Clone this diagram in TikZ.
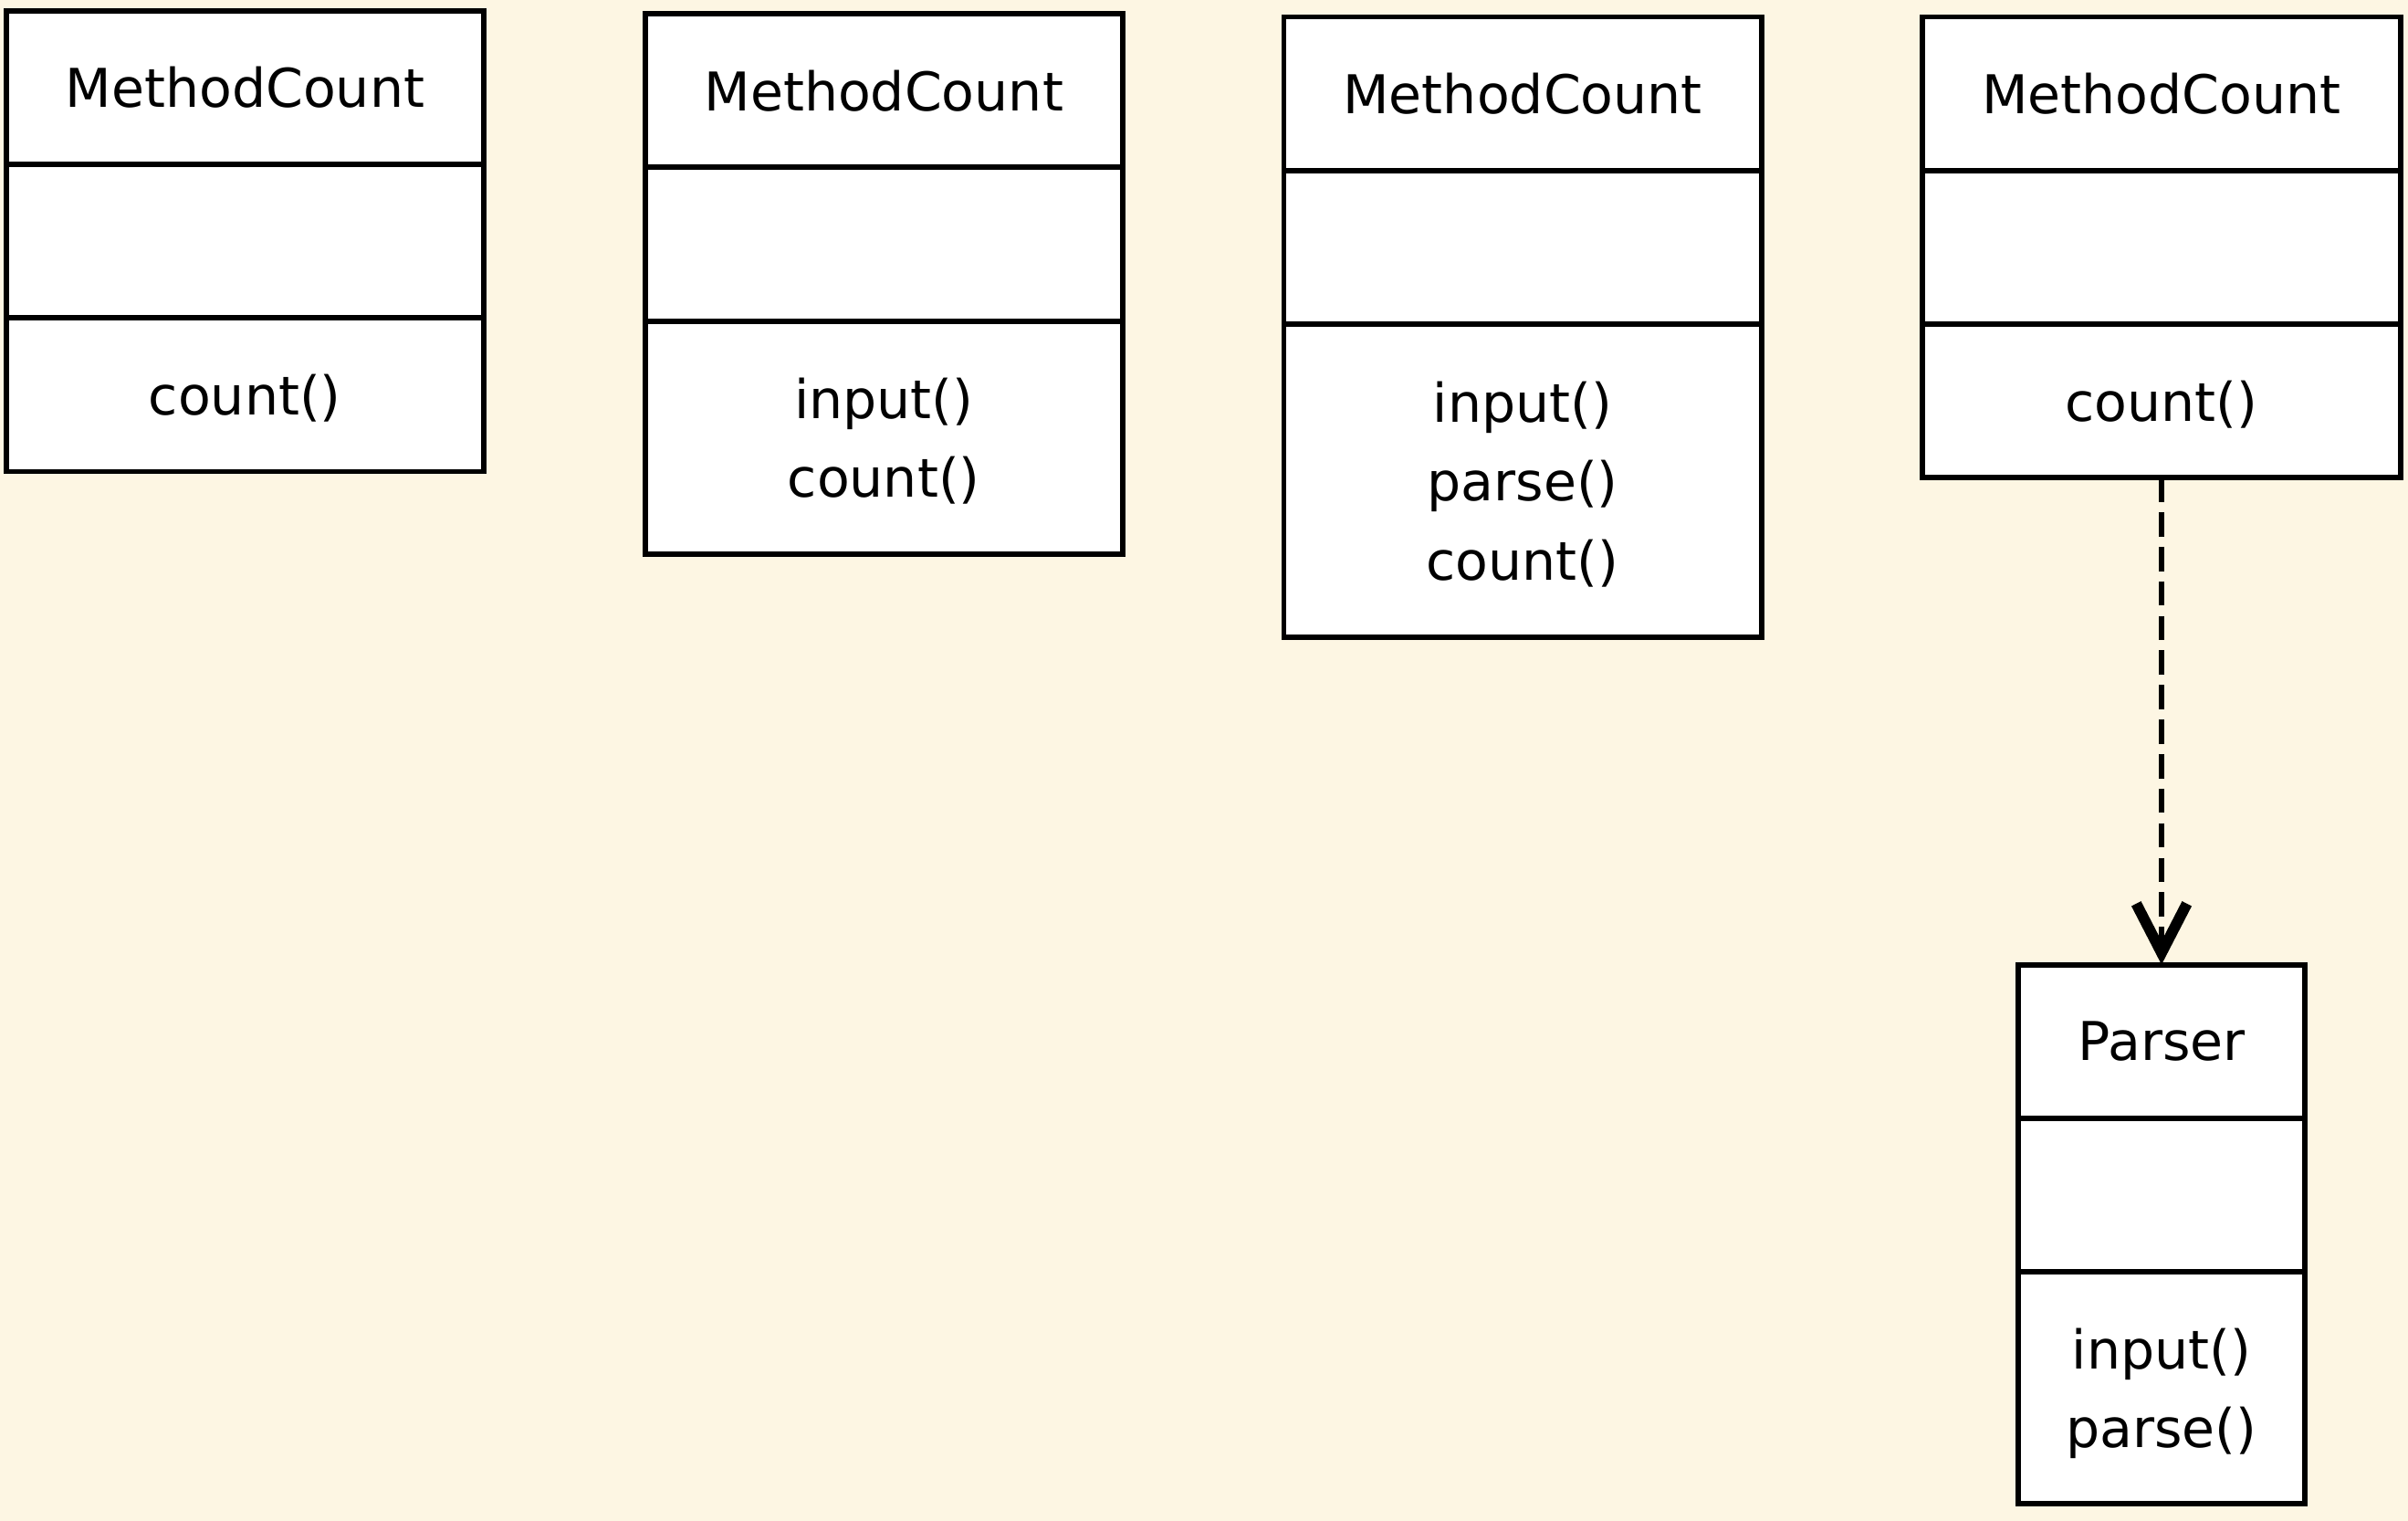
\documentclass[tikz,border=0pt]{standalone}
\usepackage{fontspec}
\setmainfont{DejaVu Sans}
\usepackage{tikz}
\usetikzlibrary{positioning, arrows.meta}

\definecolor{paper}{HTML}{FDF6E3}

\begin{document}
\begin{tikzpicture}[node distance=0pt, auto]
            \tikzstyle{classname} = [rectangle, draw, fill=white, line width=1pt, outer sep=0pt,
                minimum width=3.11cm, minimum height=1cm, text centered,
                font=\fontsize{9.9}{14.6}\selectfont]
            \tikzstyle{attrs} = [classname]
            \tikzstyle{methods} = [classname, align=center, text depth=0pt]
            \tikzstyle{dep} = [draw, line width=1.1pt, dash pattern=on 4.5pt off 1.9pt,
                -{Straight Barb[length=3.2mm, width=3.3mm, line width=2pt]}]

            % page and background
            \fill [paper] (0,0) rectangle (15.68,-9.90);
            \useasboundingbox (0,0) rectangle (15.68,-9.90);

            \node [classname] (mc1) at (1.595,-0.57) {MethodCount};
            \node [attrs, below=of mc1] (mc1a) {};
            \node [methods, below=of mc1a] (mc1m) {count()};

            \node [classname] (mc2) at (5.755,-0.59) {MethodCount};
            \node [attrs, below=of mc2] (mc2a) {};
            \node [methods, below=of mc2a, minimum height=1.52cm] (mc2m) {input()\\count()};

            \node [classname] (mc3) at (9.915,-0.61) {MethodCount};
            \node [attrs, below=of mc3] (mc3a) {};
            \node [methods, below=of mc3a, minimum height=2.04cm] (mc3m) {input()\\parse()\\count()};

            \node [classname] (mc4) at (14.075,-0.61) {MethodCount};
            \node [attrs, below=of mc4] (mc4a) {};
            \node [methods, below=of mc4a] (mc4m) {count()};

            \node [classname, minimum width=1.87cm] (parser) at (14.075,-6.78) {Parser};
            \node [attrs, minimum width=1.87cm, below=of parser] (parsera) {};
            \node [methods, minimum width=1.87cm, minimum height=1.51cm, below=of parsera] (parserm) {input()\\parse()};

            \path [dep] (mc4m) -- (parser);
        \end{tikzpicture}
\end{document}
